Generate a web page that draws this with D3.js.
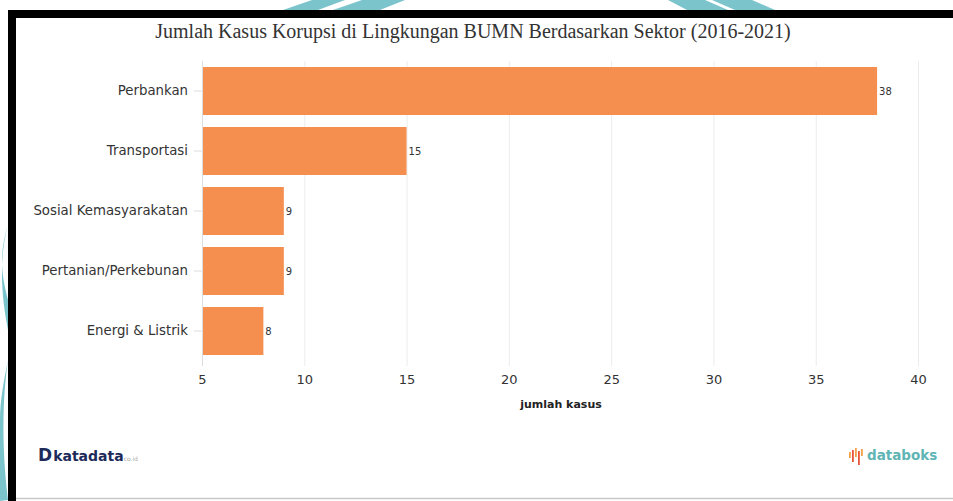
<!DOCTYPE html>
<html>
<head>
<meta charset="utf-8">
<script src="https://cdn.jsdelivr.net/npm/d3@7"></script>
<style>
  body { margin: 0; background: #fff; }
  svg { display: block; }
</style>
</head>
<body>
<svg id="chart" width="953" height="501"></svg>
<script>
const sectors = [
  "Perbankan",
  "Transportasi",
  "Sosial Kemasyarakatan",
  "Pertanian/Perkebunan",
  "Energi & Listrik",
];
const cases = [38, 15, 9, 9, 8];
const xTicks = [5, 10, 15, 20, 25, 30, 35, 40];

const data = sectors.map((s, i) => ({ name: s, value: cases[i] }));

const svg = d3.select("#chart"),
  width = +svg.attr("width"),
  height = +svg.attr("height");

// teal background shapes behind the frame
const teal = "#7cc4cc";
svg.append("rect").attr("width", width).attr("height", height).attr("fill", "#fff");
const deco = svg.append("g").attr("fill", teal);
deco.append("polygon").attr("points", "283,10 318,10 345,0 312,0");
deco.append("polygon").attr("points", "333,10 380,10 405,0 362,0");
deco.append("polygon").attr("points", "687,10 728,10 705,0 668,0");
deco.append("polygon").attr("points", "735,10 775,10 752,0 712,0");
deco.append("path")
  .attr("d", "M8,225 C0,250 0,270 8,300 L8,330 C2,300 -2,260 8,225 Z");
deco.append("path")
  .attr("d", "M8,360 C2,400 2,450 8,500 L0,501 L0,420 C0,400 4,380 8,360 Z");

// black frame
svg.append("rect").attr("x", 8).attr("y", 10).attr("width", width - 8).attr("height", 8).attr("fill", "#000");
svg.append("rect").attr("x", 8).attr("y", 10).attr("width", 8).attr("height", height - 10).attr("fill", "#000");
svg.append("rect").attr("x", 16).attr("y", 18).attr("width", width - 16).attr("height", 480).attr("fill", "#fff");
svg.append("line").attr("x1", 16).attr("x2", width).attr("y1", 498.5).attr("y2", 498.5)
  .attr("stroke", "#c8c8c8").attr("stroke-width", 1.5);

const margin = { top: 61, right: 35, bottom: 140, left: 202 };
const chartWidth = width - margin.left - margin.right;
const chartHeight = height - margin.top - margin.bottom;

const g = svg.append("g").attr("transform", `translate(${margin.left},${margin.top})`);

const x = d3.scaleLinear().domain([5, 40]).range([0, chartWidth]);
const y = d3.scaleBand().domain(sectors).range([0, chartHeight])
  .paddingInner(0.2).paddingOuter(0.1);

// grid
g.selectAll(".grid")
  .data(xTicks)
  .join("line")
  .attr("class", "grid")
  .attr("x1", (d) => x(d) + 0.5)
  .attr("x2", (d) => x(d) + 0.5)
  .attr("y1", 0)
  .attr("y2", chartHeight + 5)
  .attr("stroke", "#ececec");

// x axis
const xAxis = g.append("g")
  .attr("transform", `translate(0,${chartHeight})`)
  .call(d3.axisBottom(x).tickValues(xTicks).tickSize(0).tickPadding(14));
xAxis.select(".domain").remove();
xAxis.selectAll("text")
  .attr("font-family", "DejaVu Sans, Verdana, sans-serif")
  .attr("font-size", "13px")
  .attr("fill", "#333");

// y axis
const yAxis = g.append("g")
  .call(d3.axisLeft(y).tickSize(8).tickPadding(6));
yAxis.select(".domain").attr("stroke", "#ddd").attr("d", `M0.5,0V${chartHeight + 5}`);
yAxis.selectAll(".tick line").attr("stroke", "#ddd");
yAxis.selectAll("text")
  .attr("font-family", "DejaVu Sans, Verdana, sans-serif")
  .attr("font-size", "13.3px")
  .attr("fill", "#333");

// bars
g.selectAll(".bar")
  .data(data)
  .join("rect")
  .attr("class", "bar")
  .attr("x", 1)
  .attr("y", (d) => y(d.name))
  .attr("width", (d) => x(d.value) - 1)
  .attr("height", y.bandwidth())
  .attr("fill", "#f58f50");

g.selectAll(".val")
  .data(data)
  .join("text")
  .attr("class", "val")
  .attr("x", (d) => x(d.value) + 2)
  .attr("y", (d) => y(d.name) + y.bandwidth() / 2 + 3.5)
  .attr("font-family", "DejaVu Sans, Verdana, sans-serif")
  .attr("font-size", "10px")
  .attr("fill", "#333")
  .text((d) => d.value);

// axis title
g.append("text")
  .attr("x", chartWidth / 2 + 1)
  .attr("y", chartHeight + 47)
  .attr("text-anchor", "middle")
  .attr("font-family", "DejaVu Sans, Verdana, sans-serif")
  .attr("font-size", "11px")
  .attr("font-weight", "bold")
  .attr("fill", "#222")
  .text("jumlah kasus");

// title
svg.append("text")
  .attr("x", 473)
  .attr("y", 38)
  .attr("text-anchor", "middle")
  .attr("font-family", "Liberation Serif, Times New Roman, serif")
  .attr("font-size", "20px")
  .attr("fill", "#333")
  .text("Jumlah Kasus Korupsi di Lingkungan BUMN Berdasarkan Sektor (2016-2021)");

// footer logos
const kata = svg.append("text")
  .attr("x", 38)
  .attr("y", 461)
  .attr("font-family", "DejaVu Sans, sans-serif")
  .attr("font-weight", "bold")
  .attr("fill", "#1d2a5a");
kata.append("tspan").attr("font-size", "17px").text("D");
kata.append("tspan").attr("font-size", "14px").attr("dx", 1).text("katadata");
kata.append("tspan").attr("font-size", "6px").attr("font-weight", "normal")
  .attr("fill", "#aaa").text("co.id");

const iconBars = [[0, 4, 6], [3, 2, 12], [6, 0, 9], [9, 3, 14], [12, 1, 7]];
svg.append("g")
  .attr("transform", "translate(849,448)")
  .selectAll("rect")
  .data(iconBars)
  .join("rect")
  .attr("x", (d) => d[0])
  .attr("y", (d) => d[1])
  .attr("width", 1.8)
  .attr("height", (d) => d[2])
  .attr("fill", (d, i) => (i % 2 ? "#e8553a" : "#f3a04b"));

svg.append("text")
  .attr("x", 867)
  .attr("y", 460)
  .attr("font-family", "DejaVu Sans, sans-serif")
  .attr("font-weight", "bold")
  .attr("font-size", "13.5px")
  .attr("fill", "#5fb5b5")
  .text("databoks");
</script>
</body>
</html>
